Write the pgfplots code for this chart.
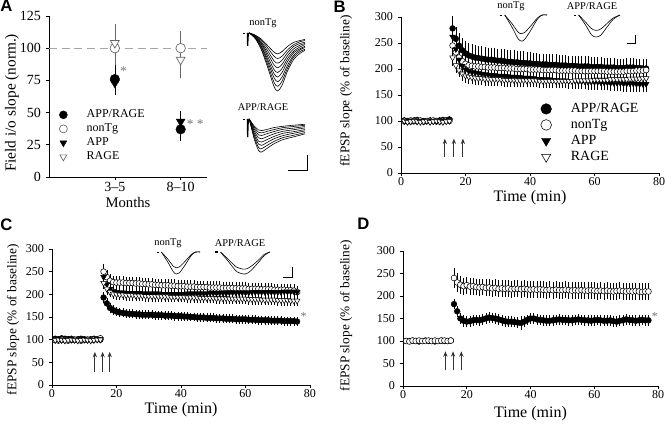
\documentclass[border=0pt]{standalone}
\usepackage{fontspec}
\setmainfont{Liberation Serif}
\newfontfamily\sansfont{Liberation Sans}
\usepackage{pgfplots}
\pgfplotsset{compat=1.18}
\usetikzlibrary{arrows.meta}
\pgfplotsset{
  base/.style={scale only axis, anchor=south west, clip=false,
    axis lines=left, axis line style={-, black, line width=0.5pt},
    tick align=outside, tick style={black, line width=0.5pt},
    major tick length=2.5pt,
    /pgf/number format/assume math mode=true,
    xticklabel style={inner sep=1pt},
    xlabel style={anchor=center, inner sep=0pt}, ylabel style={anchor=center},
    legend cell align=left},
  tpanel/.style={base, xmin=0, xmax=80, ymin=0, ymax=300,
    xtick={0,20,...,80}, ytick={0,50,...,300},
    tick label style={font=\fontsize{9}{10}\selectfont},
    xlabel={Time (min)}, ylabel={fEPSP slope (\% of baseline)},
    xlabel style={font=\fontsize{12}{13}\selectfont},
    ylabel style={font=\fontsize{10}{11}\selectfont}},
  eb/.style={error bars/y dir=both, error bars/y explicit,
    error bars/error bar style={black, line width=0.4pt},
    error bars/error mark options={black, mark size=1.3pt, line width=0.4pt}},
  sFC/.style={only marks, mark=*, mark size=2.2pt, mark options={draw=black, fill=black, line width=0.3pt}, eb},
  sOC/.style={only marks, mark=*, mark size=2.2pt, mark options={draw=black, fill=white, line width=0.4pt}, eb},
  sFT/.style={only marks, mark=triangle*, mark size=2.5pt, mark options={rotate=180, draw=black, fill=black, line width=0.3pt}, eb},
  sOT/.style={only marks, mark=triangle*, mark size=2.5pt, mark options={rotate=180, draw=black, fill=white, line width=0.4pt}, eb},
  inset/.style={scale only axis, anchor=south west, hide axis, clip=false, xmin=0, xmax=1, ymin=-1, ymax=0},
  tr/.style={black, line width=0.45pt, smooth, no marks},
}
\begin{document}
\begin{tikzpicture}
\useasboundingbox (0,0) rectangle (499.5pt,318.75pt);

% ---------------- Panel A ----------------
\begin{axis}[base, at={(36.75pt,186pt)}, width=118.5pt, height=120.75pt,
  xmin=0, xmax=2.4, ymin=0, ymax=125, xtick={1,2}, xticklabels={3--5,8--10},
  ytick={0,25,...,125},
  tick label style={font=\fontsize{10.5}{12}\selectfont},
  xlabel={Months}, ylabel={Field i/o slope (norm.)},
  xlabel style={font=\fontsize{11}{12}\selectfont, at={(axis description cs:0.5,-0.16)}},
  ylabel style={font=\fontsize{11.5}{12}\selectfont, at={(axis description cs:-0.234,0.46)}},
  legend style={at={(0.064,0.08)}, anchor=south west, draw=none, fill=none, inner sep=0pt,
    font=\fontsize{9}{10}\selectfont, nodes={inner sep=1pt, text height=6.5pt, text depth=2pt},
    /tikz/every odd column/.append style={column sep=13.5pt}},
  legend image post style={mark size=3pt},
]
\addplot[black!35, dash pattern=on 6pt off 3.5pt, line width=1pt, forget plot] coordinates {(0,100) (2.4,100)};
\addplot[sFC, mark size=3.6pt] table[row sep=\\, x=x, y=y, y error=e] {x y e\\ 1 76 10\\ 2 37 8\\};
\addlegendentry{APP/RAGE}
\addplot[sOC, mark size=3.6pt, mark options={draw=black!60, fill=white, line width=0.5pt},
  error bars/error bar style={black!60}, error bars/error mark options={black!60}] table[row sep=\\, x=x, y=y, y error=e] {x y e\\ 1 100 9\\ 2 100 9.5\\};
\addlegendentry{nonTg}
\addplot[sFT, mark size=3.8pt] table[row sep=\\, x=x, y=y, y error=e] {x y e\\ 1 73 8\\ 2 43 7\\};
\addlegendentry{APP}
\addplot[sOT, mark size=3.8pt, mark options={rotate=180, draw=black!60, fill=white, line width=0.5pt},
  error bars/error bar style={black!60}, error bars/error mark options={black!60}] table[row sep=\\, x=x, y=y, y error=e] {x y e\\ 1 104 11\\ 2 91 10.5\\};
\addlegendentry{RAGE}
\node[text=black!55, font=\fontsize{10}{10}\selectfont] at (axis cs:1.13,82) {*};
\node[text=black!55, font=\fontsize{10}{10}\selectfont] at (axis cs:2.22,41) {* *};
\end{axis}

% insets A
\begin{axis}[inset, at={(182.25pt,250.5pt)}, width=46.5pt, height=43.5pt]
\addplot[black, line width=0.7pt] coordinates {(0,0) (0.04,0)};
\addplot[black, line width=0.9pt] coordinates {(0.07,0) (0.075,-0.22) (0.085,-0.02) (0.1,0)};
\addplot[tr] coordinates {(0.10,0) (0.2,-0.10) (0.3,-0.30) (0.4,-0.60) (0.5,-0.92) (0.56,-1.00) (0.63,-0.90) (0.72,-0.65) (0.82,-0.45) (0.92,-0.35) (1.0,-0.30)};
\addplot[tr] coordinates {(0.10,0) (0.2,-0.09) (0.3,-0.28) (0.4,-0.55) (0.5,-0.85) (0.56,-0.92) (0.63,-0.83) (0.72,-0.60) (0.82,-0.41) (0.92,-0.32) (1.0,-0.28)};
\addplot[tr] coordinates {(0.10,0) (0.2,-0.08) (0.3,-0.25) (0.4,-0.50) (0.5,-0.77) (0.56,-0.84) (0.63,-0.76) (0.72,-0.55) (0.82,-0.38) (0.92,-0.29) (1.0,-0.25)};
\addplot[tr] coordinates {(0.10,0) (0.2,-0.08) (0.3,-0.23) (0.4,-0.46) (0.5,-0.70) (0.56,-0.76) (0.63,-0.68) (0.72,-0.49) (0.82,-0.34) (0.92,-0.27) (1.0,-0.23)};
\addplot[tr] coordinates {(0.10,0) (0.2,-0.07) (0.3,-0.20) (0.4,-0.41) (0.5,-0.63) (0.56,-0.68) (0.63,-0.61) (0.72,-0.44) (0.82,-0.31) (0.92,-0.24) (1.0,-0.20)};
\addplot[tr] coordinates {(0.10,0) (0.2,-0.06) (0.3,-0.18) (0.4,-0.36) (0.5,-0.55) (0.56,-0.60) (0.63,-0.54) (0.72,-0.39) (0.82,-0.27) (0.92,-0.21) (1.0,-0.18)};
\addplot[tr] coordinates {(0.10,0) (0.2,-0.05) (0.3,-0.16) (0.4,-0.31) (0.5,-0.48) (0.56,-0.52) (0.63,-0.47) (0.72,-0.34) (0.82,-0.23) (0.92,-0.18) (1.0,-0.16)};
\addplot[tr] coordinates {(0.10,0) (0.2,-0.04) (0.3,-0.13) (0.4,-0.26) (0.5,-0.40) (0.56,-0.44) (0.63,-0.40) (0.72,-0.29) (0.82,-0.20) (0.92,-0.15) (1.0,-0.13)};
\addplot[tr] coordinates {(0.10,0) (0.2,-0.04) (0.3,-0.11) (0.4,-0.22) (0.5,-0.33) (0.56,-0.36) (0.63,-0.32) (0.72,-0.23) (0.82,-0.16) (0.92,-0.13) (1.0,-0.11)};
\end{axis}
\begin{axis}[inset, at={(182.25pt,204.75pt)}, width=46.5pt, height=24.75pt]
\addplot[black, line width=0.7pt] coordinates {(0,0) (0.04,0)};
\addplot[black, line width=0.9pt] coordinates {(0.07,0) (0.075,-0.55) (0.085,-0.05) (0.1,0)};
\addplot[tr] coordinates {(0.10,0) (0.18,-0.60) (0.25,-0.95) (0.30,-1.00) (0.38,-0.90) (0.50,-0.75) (0.65,-0.62) (0.80,-0.55) (1.0,-0.45)};
\addplot[tr] coordinates {(0.10,0) (0.18,-0.54) (0.25,-0.86) (0.30,-0.90) (0.38,-0.81) (0.50,-0.68) (0.65,-0.56) (0.80,-0.50) (1.0,-0.41)};
\addplot[tr] coordinates {(0.10,0) (0.18,-0.48) (0.25,-0.76) (0.30,-0.80) (0.38,-0.72) (0.50,-0.60) (0.65,-0.50) (0.80,-0.44) (1.0,-0.36)};
\addplot[tr] coordinates {(0.10,0) (0.18,-0.42) (0.25,-0.67) (0.30,-0.70) (0.38,-0.63) (0.50,-0.53) (0.65,-0.43) (0.80,-0.39) (1.0,-0.32)};
\addplot[tr] coordinates {(0.10,0) (0.18,-0.36) (0.25,-0.57) (0.30,-0.60) (0.38,-0.54) (0.50,-0.45) (0.65,-0.37) (0.80,-0.33) (1.0,-0.27)};
\addplot[tr] coordinates {(0.10,0) (0.18,-0.30) (0.25,-0.48) (0.30,-0.50) (0.38,-0.45) (0.50,-0.38) (0.65,-0.31) (0.80,-0.28) (1.0,-0.23)};
\addplot[tr] coordinates {(0.10,0) (0.18,-0.25) (0.25,-0.40) (0.30,-0.42) (0.38,-0.38) (0.50,-0.32) (0.65,-0.26) (0.80,-0.23) (1.0,-0.19)};
\addplot[tr] coordinates {(0.10,0) (0.18,-0.21) (0.25,-0.33) (0.30,-0.35) (0.38,-0.32) (0.50,-0.26) (0.65,-0.22) (0.80,-0.19) (1.0,-0.16)};
\addplot[black, line width=0.6pt] coordinates {(0.726,-1.545) (1.032,-1.545) (1.032,-1.09)};
\end{axis}
\node[font=\fontsize{7.8}{8}\selectfont] at (197.25pt,301.5pt) {nonTg};
\node[font=\fontsize{7.8}{8}\selectfont] at (197.25pt,238.5pt) {APP/RAGE};

% ---------------- Panel B ----------------
\begin{axis}[tpanel, at={(300.75pt,189pt)}, width=193.5pt, height=117pt,
  xlabel style={at={(axis description cs:0.5,-0.16)}},
  ylabel style={at={(axis description cs:-0.213,0.526)}},
  legend style={at={(0.541,0.05)}, anchor=south west, draw=none, fill=none, inner sep=0pt,
    font=\fontsize{10.5}{11}\selectfont, nodes={inner sep=1pt, text height=7.5pt, text depth=2.5pt},
    /tikz/every odd column/.append style={column sep=13.5pt}},
  legend image post style={mark size=4pt},
]
\addplot[sFC] table[row sep=\\, x=t, y=y, y error=e] {t y e\\
1 101 3\\ 2 100 3\\ 3 99 3\\ 4 101 3\\ 5 102 3\\ 6 100 3\\ 7 99 3\\ 8 100 3\\ 9 101 3\\ 10 100 3\\ 11 99 3\\ 12 101 3\\ 13 102 3\\ 14 101 3\\ 15 103 3\\
16 278 20\\ 17 258 20\\ 18 245 20\\ 19 236 20\\ 20 230 20\\ 21 226 20\\ 22 224 20\\ 23 222 20\\ 24 221 20\\ 25 220 20\\
26 219 20\\ 27 218 20\\ 28 218 20\\ 29 217 20\\ 30 216 20\\ 31 216 20\\ 32 215 20\\ 33 214 20\\ 34 214 20\\ 35 213 20\\
36 213 19\\ 37 212 19\\ 38 212 19\\ 39 211 19\\ 40 211 19\\ 41 210 17\\ 42 210 17\\ 43 209 17\\ 44 209 17\\ 45 209 17\\
46 208 17\\ 47 208 17\\ 48 208 17\\ 49 207 17\\ 50 207 17\\ 51 207 16\\ 52 206 16\\ 53 206 16\\ 54 206 16\\ 55 205 16\\
56 205 16\\ 57 205 16\\ 58 205 16\\ 59 204 15\\ 60 204 15\\ 61 204 15\\ 62 204 15\\ 63 203 15\\ 64 203 15\\ 65 203 15\\
66 203 14\\ 67 202 14\\ 68 202 14\\ 69 202 14\\ 70 203 14\\ 71 203 14\\ 72 203 14\\ 73 202 14\\ 74 202 14\\ 75 201 14\\ 76 201 14\\};
\addlegendentry{APP/RAGE}
\addplot[sOC] table[row sep=\\, x=t, y=y, y error=e] {t y e\\
1 100 2\\ 2 99 2\\ 3 101 2\\ 4 100 2\\ 5 100 2\\ 6 101 2\\ 7 99 2\\ 8 100 2\\ 9 100 2\\ 10 101 2\\ 11 100 2\\ 12 99 2\\ 13 100 2\\ 14 101 2\\ 15 100 2\\
16 245 14\\ 17 232 14\\ 18 222 12\\ 19 215 12\\ 20 210 11\\ 21 207 10\\ 22 206 10\\ 23 205 10\\ 24 205 10\\ 25 204 10\\
26 204 10\\ 27 203 10\\ 28 203 10\\ 29 203 10\\ 30 202 10\\ 31 202 10\\ 32 202 10\\ 33 201 10\\ 34 201 10\\ 35 201 10\\
36 200 10\\ 37 200 10\\ 38 200 10\\ 39 200 10\\ 40 199 10\\ 41 199 10\\ 42 199 10\\ 43 199 10\\ 44 198 10\\ 45 198 10\\
46 198 10\\ 47 198 10\\ 48 198 10\\ 49 197 10\\ 50 197 10\\ 51 197 10\\ 52 197 10\\ 53 197 10\\ 54 197 10\\ 55 196 10\\
56 196 10\\ 57 196 10\\ 58 196 10\\ 59 196 10\\ 60 196 10\\ 61 196 10\\ 62 196 10\\ 63 196 10\\ 64 195 10\\ 65 195 10\\
66 195 10\\ 67 195 10\\ 68 195 10\\ 69 195 10\\ 70 196 10\\ 71 196 10\\ 72 196 10\\ 73 197 10\\ 74 197 10\\ 75 197 10\\ 76 198 10\\};
\addlegendentry{nonTg}
\addplot[sFT] table[row sep=\\, x=t, y=y, y error=e] {t y e\\
1 99 2\\ 2 100 2\\ 3 101 2\\ 4 100 2\\ 5 99 2\\ 6 100 2\\ 7 101 2\\ 8 100 2\\ 9 99 2\\ 10 100 2\\ 11 101 2\\ 12 100 2\\ 13 100 2\\ 14 101 2\\ 15 102 2\\
16 262 16\\ 17 238 15\\ 18 218 14\\ 19 206 14\\ 20 199 13\\ 21 196 13\\ 22 194 13\\ 23 193 13\\ 24 192 13\\ 25 191 13\\
26 190 13\\ 27 189 13\\ 28 188 13\\ 29 188 13\\ 30 187 13\\ 31 187 13\\ 32 186 13\\ 33 186 13\\ 34 185 13\\ 35 185 13\\
36 184 13\\ 37 184 13\\ 38 183 13\\ 39 183 13\\ 40 182 13\\ 41 182 12\\ 42 181 12\\ 43 181 12\\ 44 180 12\\ 45 180 12\\
46 180 12\\ 47 179 12\\ 48 179 12\\ 49 178 12\\ 50 178 12\\ 51 178 12\\ 52 177 12\\ 53 177 12\\ 54 177 12\\ 55 176 12\\
56 176 12\\ 57 176 12\\ 58 175 12\\ 59 175 12\\ 60 175 12\\ 61 175 12\\ 62 174 12\\ 63 174 12\\ 64 174 12\\ 65 173 12\\
66 173 12\\ 67 173 12\\ 68 173 12\\ 69 172 12\\ 70 172 12\\ 71 172 12\\ 72 172 12\\ 73 171 12\\ 74 171 12\\ 75 171 12\\ 76 171 12\\};
\addlegendentry{APP}
\addplot[sOT] table[row sep=\\, x=t, y=y, y error=e] {t y e\\
1 100 2\\ 2 98 2\\ 3 99 2\\ 4 100 2\\ 5 99 2\\ 6 98 2\\ 7 99 2\\ 8 100 2\\ 9 98 2\\ 10 99 2\\ 11 100 2\\ 12 99 2\\ 13 98 2\\ 14 99 2\\ 15 100 2\\
16 222 12\\ 17 207 11\\ 18 197 10\\ 19 191 10\\ 20 187 10\\ 21 185 10\\ 22 184 10\\ 23 183 10\\ 24 182 10\\ 25 182 10\\
26 181 10\\ 27 181 10\\ 28 180 10\\ 29 180 10\\ 30 180 10\\ 31 180 10\\ 32 179 10\\ 33 179 10\\ 34 179 10\\ 35 179 10\\
36 178 10\\ 37 178 10\\ 38 178 10\\ 39 178 10\\ 40 178 10\\ 41 178 10\\ 42 178 10\\ 43 177 10\\ 44 177 10\\ 45 177 10\\
46 177 10\\ 47 177 10\\ 48 177 10\\ 49 177 10\\ 50 177 10\\ 51 177 10\\ 52 177 10\\ 53 177 10\\ 54 178 10\\ 55 178 10\\
56 178 10\\ 57 178 10\\ 58 178 10\\ 59 178 10\\ 60 179 10\\ 61 179 10\\ 62 179 10\\ 63 179 10\\ 64 179 10\\ 65 180 10\\
66 180 10\\ 67 180 10\\ 68 180 10\\ 69 180 10\\ 70 180 10\\ 71 181 10\\ 72 181 10\\ 73 181 10\\ 74 181 10\\ 75 182 10\\ 76 182 10\\};
\addlegendentry{RAGE}
\draw[-{Stealth[length=4pt,width=3.2pt]}, line width=0.7pt, black!80] (axis cs:13.6,30) -- (axis cs:13.6,66);
\draw[-{Stealth[length=4pt,width=3.2pt]}, line width=0.7pt, black!80] (axis cs:16.4,30) -- (axis cs:16.4,66);
\draw[-{Stealth[length=4pt,width=3.2pt]}, line width=0.7pt, black!80] (axis cs:19.2,30) -- (axis cs:19.2,66);
\end{axis}

% insets B
\begin{axis}[inset, at={(375pt,288pt)}, width=35.25pt, height=19.5pt]
\addplot[black, line width=0.6pt] coordinates {(0,0) (0.05,0)};
\addplot[tr] coordinates {(0.1,0) (0.25,-0.45) (0.38,-0.9) (0.45,-1.0) (0.52,-0.95) (0.65,-0.6) (0.8,-0.15) (0.9,0) (1.0,0)};
\addplot[tr] coordinates {(0.1,0) (0.25,-0.32) (0.38,-0.65) (0.45,-0.72) (0.52,-0.68) (0.65,-0.43) (0.8,-0.11) (0.9,0) (1.0,0)};
\end{axis}
\begin{axis}[inset, at={(430.5pt,291pt)}, width=34.5pt, height=16.5pt]
\addplot[black, line width=0.6pt] coordinates {(0,0) (0.05,0)};
\addplot[tr] coordinates {(0.1,0) (0.25,-0.45) (0.38,-0.9) (0.48,-1.0) (0.58,-0.92) (0.7,-0.6) (0.85,-0.2) (1.0,0)};
\addplot[tr] coordinates {(0.1,0) (0.25,-0.32) (0.38,-0.62) (0.48,-0.70) (0.58,-0.64) (0.7,-0.42) (0.85,-0.14) (1.0,0)};
\addplot[black, line width=0.6pt] coordinates {(1.152,-1.273) (1.326,-1.273) (1.326,-0.909)};
\end{axis}
\node[font=\fontsize{7.8}{8}\selectfont] at (383.25pt,314.25pt) {nonTg};
\node[font=\fontsize{7.8}{8}\selectfont] at (444pt,314.25pt) {APP/RAGE};

% ---------------- Panel C ----------------
\begin{axis}[tpanel, at={(39pt,30pt)}, width=193.5pt, height=102pt,
  xlabel style={at={(axis description cs:0.5,-0.18)}},
  ylabel style={at={(axis description cs:-0.151,0.48)}},
]
\addplot[sFC] table[row sep=\\, x=t, y=y, y error=e] {t y e\\
1 102 3\\ 2 101 3\\ 3 103 3\\ 4 102 3\\ 5 101 3\\ 6 102 3\\ 7 100 3\\ 8 101 3\\ 9 102 3\\ 10 101 3\\ 11 100 3\\ 12 101 3\\ 13 102 3\\ 14 101 3\\ 15 100 3\\
16 193 8\\ 17 180 8\\ 18 170 8\\ 19 165 7\\ 20 162 7\\ 21 160 6\\ 22 159 6\\ 23 158 6\\ 24 157 6\\ 25 157 6\\
26 156 6\\ 27 156 6\\ 28 155 6\\ 29 155 6\\ 30 155 6\\ 31 155 6\\ 32 154 6\\ 33 154 6\\ 34 154 6\\ 35 153 6\\
36 153 6\\ 37 153 6\\ 38 152 6\\ 39 152 6\\ 40 152 6\\ 41 151 6\\ 42 151 6\\ 43 150 6\\ 44 150 6\\ 45 149 6\\
46 149 6\\ 47 149 6\\ 48 148 6\\ 49 148 6\\ 50 148 6\\ 51 147 6\\ 52 147 6\\ 53 147 6\\ 54 146 6\\ 55 146 6\\
56 146 6\\ 57 145 6\\ 58 145 6\\ 59 145 6\\ 60 145 6\\ 61 144 6\\ 62 144 6\\ 63 144 6\\ 64 143 6\\ 65 143 6\\
66 143 6\\ 67 143 6\\ 68 142 6\\ 69 142 6\\ 70 142 6\\ 71 142 6\\ 72 141 6\\ 73 141 6\\ 74 141 6\\ 75 141 6\\ 76 140 6\\};
\addplot[sOC] table[row sep=\\, x=t, y=y, y error=e] {t y e\\
1 99 2\\ 2 98 2\\ 3 100 2\\ 4 99 2\\ 5 98 2\\ 6 99 2\\ 7 100 2\\ 8 99 2\\ 9 98 2\\ 10 99 2\\ 11 100 2\\ 12 99 2\\ 13 100 2\\ 14 101 2\\ 15 103 2\\
16 250 14\\ 17 238 12\\ 18 230 10\\ 19 227 10\\ 20 226 10\\ 21 226 10\\ 22 226 10\\ 23 225 10\\ 24 225 10\\ 25 225 10\\
26 224 10\\ 27 224 10\\ 28 223 10\\ 29 223 10\\ 30 222 10\\ 31 222 10\\ 32 221 10\\ 33 221 10\\ 34 220 10\\ 35 220 10\\
36 220 10\\ 37 219 10\\ 38 219 10\\ 39 218 10\\ 40 218 10\\ 41 218 10\\ 42 217 10\\ 43 217 10\\ 44 217 10\\ 45 216 10\\
46 216 10\\ 47 216 10\\ 48 216 10\\ 49 215 10\\ 50 215 10\\ 51 215 10\\ 52 215 10\\ 53 214 10\\ 54 214 10\\ 55 214 10\\
56 214 10\\ 57 213 10\\ 58 213 10\\ 59 213 10\\ 60 213 10\\ 61 212 10\\ 62 212 10\\ 63 212 10\\ 64 212 10\\ 65 211 10\\
66 211 10\\ 67 211 10\\ 68 211 10\\ 69 210 10\\ 70 210 10\\ 71 210 10\\ 72 210 10\\ 73 209 10\\ 74 209 10\\ 75 208 10\\ 76 205 10\\};
\addplot[sFT] table[row sep=\\, x=t, y=y, y error=e] {t y e\\
1 100 2\\ 2 101 2\\ 3 100 2\\ 4 99 2\\ 5 100 2\\ 6 101 2\\ 7 100 2\\ 8 99 2\\ 9 100 2\\ 10 101 2\\ 11 100 2\\ 12 99 2\\ 13 100 2\\ 14 101 2\\ 15 101 2\\
16 238 10\\ 17 222 9\\ 18 212 8\\ 19 207 8\\ 20 205 8\\ 21 204 8\\ 22 204 8\\ 23 203 8\\ 24 203 8\\ 25 203 8\\
26 203 8\\ 27 203 8\\ 28 202 8\\ 29 202 8\\ 30 202 8\\ 31 202 8\\ 32 202 8\\ 33 202 8\\ 34 201 8\\ 35 201 8\\
36 201 8\\ 37 201 8\\ 38 201 8\\ 39 201 8\\ 40 201 8\\ 41 201 8\\ 42 202 8\\ 43 202 8\\ 44 202 8\\ 45 202 8\\
46 202 8\\ 47 202 8\\ 48 202 8\\ 49 203 8\\ 50 203 8\\ 51 203 8\\ 52 203 8\\ 53 203 8\\ 54 203 8\\ 55 204 8\\
56 204 8\\ 57 204 8\\ 58 204 8\\ 59 204 8\\ 60 204 8\\ 61 204 8\\ 62 205 8\\ 63 205 8\\ 64 205 8\\ 65 205 8\\
66 205 8\\ 67 205 8\\ 68 205 8\\ 69 205 8\\ 70 205 8\\ 71 205 8\\ 72 206 8\\ 73 206 8\\ 74 206 8\\ 75 206 8\\ 76 205 8\\};
\addplot[sOT] table[row sep=\\, x=t, y=y, y error=e] {t y e\\
1 99 2\\ 2 100 2\\ 3 99 2\\ 4 98 2\\ 5 99 2\\ 6 100 2\\ 7 99 2\\ 8 98 2\\ 9 99 2\\ 10 100 2\\ 11 99 2\\ 12 98 2\\ 13 99 2\\ 14 100 2\\ 15 100 2\\
16 225 10\\ 17 212 9\\ 18 205 8\\ 19 201 8\\ 20 200 8\\ 21 199 8\\ 22 199 8\\ 23 198 8\\ 24 198 8\\ 25 198 8\\
26 197 8\\ 27 197 8\\ 28 197 8\\ 29 196 8\\ 30 196 8\\ 31 196 8\\ 32 196 8\\ 33 195 8\\ 34 195 8\\ 35 195 8\\
36 195 8\\ 37 194 8\\ 38 194 8\\ 39 194 8\\ 40 194 8\\ 41 194 8\\ 42 193 8\\ 43 193 8\\ 44 193 8\\ 45 193 8\\
46 192 8\\ 47 192 8\\ 48 192 8\\ 49 192 8\\ 50 192 8\\ 51 191 8\\ 52 191 8\\ 53 191 8\\ 54 191 8\\ 55 190 8\\
56 190 8\\ 57 190 8\\ 58 190 8\\ 59 190 8\\ 60 190 8\\ 61 189 8\\ 62 189 8\\ 63 189 8\\ 64 189 8\\ 65 188 8\\
66 188 8\\ 67 188 8\\ 68 188 8\\ 69 188 8\\ 70 187 8\\ 71 187 8\\ 72 187 8\\ 73 187 8\\ 74 186 8\\ 75 186 8\\ 76 186 8\\};
\draw[-{Stealth[length=4pt,width=3.2pt]}, line width=0.7pt, black!80] (axis cs:13.3,28) -- (axis cs:13.3,73);
\draw[-{Stealth[length=4pt,width=3.2pt]}, line width=0.7pt, black!80] (axis cs:15.7,28) -- (axis cs:15.7,73);
\draw[-{Stealth[length=4pt,width=3.2pt]}, line width=0.7pt, black!80] (axis cs:17.9,28) -- (axis cs:17.9,73);
\node[text=black!55, font=\fontsize{9}{9}\selectfont] at (axis cs:78,150) {*};
\end{axis}

% insets C
\begin{axis}[inset, at={(117.75pt,113.25pt)}, width=32.25pt, height=16.5pt]
\addplot[black, line width=0.6pt] coordinates {(0,0) (0.05,0)};
\addplot[tr] coordinates {(0.1,0) (0.25,-0.45) (0.38,-0.9) (0.45,-1.0) (0.52,-0.95) (0.65,-0.6) (0.8,-0.15) (0.9,0) (1.0,0)};
\addplot[tr] coordinates {(0.1,0) (0.25,-0.32) (0.38,-0.65) (0.45,-0.72) (0.52,-0.68) (0.65,-0.43) (0.8,-0.11) (0.9,0) (1.0,0)};
\end{axis}
\begin{axis}[inset, at={(161.25pt,113.25pt)}, width=41.25pt, height=16.5pt]
\addplot[black, line width=0.9pt] coordinates {(0,0) (0.06,0)};
\addplot[tr] coordinates {(0.1,0) (0.25,-0.45) (0.4,-0.9) (0.55,-1.0) (0.65,-0.85) (0.78,-0.5) (0.9,-0.15) (1.0,0)};
\addplot[tr] coordinates {(0.1,0) (0.25,-0.35) (0.4,-0.7) (0.55,-0.78) (0.65,-0.66) (0.78,-0.39) (0.9,-0.1) (1.0,0)};
\addplot[black, line width=0.6pt] coordinates {(1.236,-1.136) (1.4,-1.136) (1.4,-0.68)};
\end{axis}
\node[font=\fontsize{7.8}{8}\selectfont] at (126pt,136.5pt) {nonTg};
\node[font=\fontsize{7.8}{8}\selectfont] at (180pt,136.5pt) {APP/RAGE};

% ---------------- Panel D ----------------
\begin{axis}[tpanel, at={(302.25pt,29.25pt)}, width=191.25pt, height=101.25pt,
  xlabel style={at={(axis description cs:0.5,-0.205)}},
  ylabel style={at={(axis description cs:-0.223,0.52)}},
]
\addplot[sFC] table[row sep=\\, x=t, y=y, y error=e] {t y e\\
1 100 2\\ 2 100 2\\ 3 101 2\\ 4 100 2\\ 5 99 2\\ 6 100 2\\ 7 101 2\\ 8 100 2\\ 9 100 2\\ 10 99 2\\ 11 100 2\\ 12 101 2\\ 13 100 2\\ 14 100 2\\ 15 101 2\\
16 182 8\\ 17 166 8\\ 18 150 9\\ 19 145 9\\ 20 143 9\\ 21 144 8\\ 22 146 8\\ 23 147 8\\ 24 146 8\\ 25 148 8\\
26 150 8\\ 27 152 8\\ 28 151 8\\ 29 150 8\\ 30 148 8\\ 31 146 8\\ 32 144 8\\ 33 143 8\\ 34 143 8\\ 35 142 8\\
36 141 9\\ 37 140 11\\ 38 143 9\\ 39 147 8\\ 40 150 8\\ 41 150 8\\ 42 148 8\\ 43 147 8\\ 44 146 8\\ 45 145 8\\
46 145 8\\ 47 146 8\\ 48 147 8\\ 49 148 8\\ 50 147 8\\ 51 147 8\\ 52 146 8\\ 53 146 8\\ 54 147 8\\ 55 148 8\\
56 147 8\\ 57 146 8\\ 58 146 8\\ 59 145 8\\ 60 146 8\\ 61 147 8\\ 62 146 8\\ 63 145 8\\ 64 145 8\\ 65 146 8\\
66 144 8\\ 67 143 8\\ 68 145 8\\ 69 146 8\\ 70 148 8\\ 71 147 8\\ 72 146 8\\ 73 145 8\\ 74 146 8\\ 75 147 8\\ 76 146 8\\ 77 146 8\\};
\addplot[sOC] table[row sep=\\, x=t, y=y, y error=e] {t y e\\
1 100 2\\ 2 99 2\\ 3 101 2\\ 4 100 2\\ 5 101 2\\ 6 100 2\\ 7 100 2\\ 8 101 2\\ 9 100 2\\ 10 101 2\\ 11 100 2\\ 12 101 2\\ 13 101 2\\ 14 100 2\\ 15 101 2\\
16 240 18\\ 17 230 17\\ 18 225 16\\ 19 222 15\\ 20 224 15\\ 21 221 15\\ 22 222 15\\ 23 220 15\\ 24 219 15\\ 25 220 15\\
26 218 15\\ 27 219 15\\ 28 217 15\\ 29 218 15\\ 30 216 15\\ 31 217 15\\ 32 216 15\\ 33 217 15\\ 34 215 15\\ 35 216 15\\
36 216 15\\ 37 215 15\\ 38 216 15\\ 39 215 15\\ 40 214 15\\ 41 215 15\\ 42 214 15\\ 43 215 15\\ 44 214 15\\ 45 213 15\\
46 214 15\\ 47 213 15\\ 48 214 15\\ 49 213 15\\ 50 213 15\\ 51 214 15\\ 52 213 15\\ 53 212 15\\ 54 213 15\\ 55 212 15\\
56 213 15\\ 57 212 15\\ 58 212 15\\ 59 213 15\\ 60 212 15\\ 61 211 15\\ 62 212 15\\ 63 211 15\\ 64 212 15\\ 65 211 15\\
66 210 15\\ 67 211 15\\ 68 212 15\\ 69 211 15\\ 70 210 15\\ 71 211 15\\ 72 210 15\\ 73 211 15\\ 74 210 15\\ 75 209 15\\ 76 210 15\\ 77 210 15\\};
\draw[-{Stealth[length=4pt,width=3.2pt]}, line width=0.7pt, black!80] (axis cs:13.3,35) -- (axis cs:13.3,77);
\draw[-{Stealth[length=4pt,width=3.2pt]}, line width=0.7pt, black!80] (axis cs:15.7,35) -- (axis cs:15.7,77);
\draw[-{Stealth[length=4pt,width=3.2pt]}, line width=0.7pt, black!80] (axis cs:18.3,35) -- (axis cs:18.3,77);
\node[text=black!55, font=\fontsize{9}{9}\selectfont] at (axis cs:79,155) {*};
\end{axis}

% panel letters
\node[anchor=north west, inner sep=0pt, font=\sansfont\bfseries\fontsize{12.5}{12.5}\selectfont] at (0pt,318.75pt) {A};
\node[anchor=north west, inner sep=0pt, font=\sansfont\bfseries\fontsize{12.5}{12.5}\selectfont] at (250pt,318pt) {B};
\node[anchor=north west, inner sep=0pt, font=\sansfont\bfseries\fontsize{12.5}{12.5}\selectfont] at (0pt,154.5pt) {C};
\node[anchor=north west, inner sep=0pt, font=\sansfont\bfseries\fontsize{12.5}{12.5}\selectfont] at (267.75pt,155.25pt) {D};
\end{tikzpicture}
\end{document}
